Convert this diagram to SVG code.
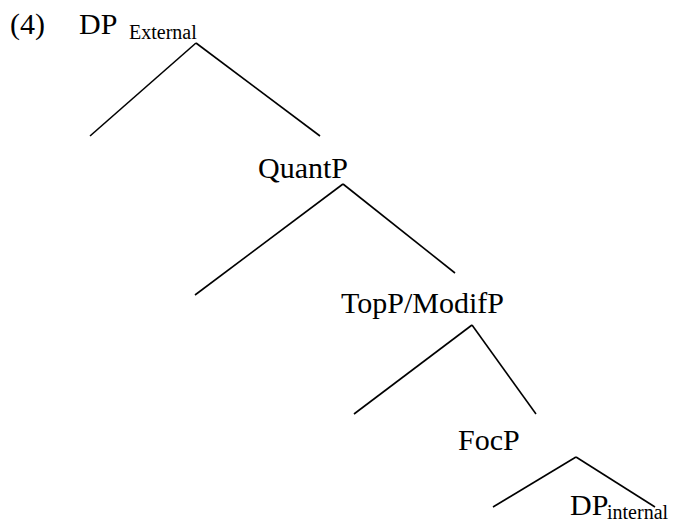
<svg xmlns="http://www.w3.org/2000/svg" width="677" height="523" viewBox="0 0 677 523">
<style>
text{font-family:"Liberation Serif","Times New Roman",serif;fill:#000;}
.m{font-size:30px;}
.s{font-size:20px;}
.e{stroke:#000;stroke-width:1.6;fill:none;stroke-linecap:butt;}
</style>
<rect width="677" height="523" fill="#fff"/>
<g id="label4"><text class="m" x="10" y="34">(4)</text></g>
<g id="dp-external"><text class="m" x="79" y="34">DP</text><text class="s" x="129" y="39">External</text></g>
<g id="quantp"><text class="m" x="258" y="178">QuantP</text></g>
<g id="topp-modifp"><text class="m" x="341" y="313">TopP/ModifP</text></g>
<g id="focp"><text class="m" x="458" y="450">FocP</text></g>
<g id="dp-internal"><text class="m" x="570" y="515">DP</text><text class="s" x="607" y="519">internal</text></g>
<g id="connectors">
<line class="e" x1="196" y1="43" x2="90" y2="136"/>
<line class="e" x1="196" y1="43" x2="320" y2="136"/>
<line class="e" x1="343" y1="184" x2="195" y2="295"/>
<line class="e" x1="343" y1="184" x2="455" y2="273"/>
<line class="e" x1="472" y1="325" x2="354" y2="414"/>
<line class="e" x1="472" y1="325" x2="536" y2="414"/>
<line class="e" x1="576" y1="457" x2="493" y2="507"/>
<line class="e" x1="576" y1="457" x2="655" y2="507"/>
</g>
</svg>
